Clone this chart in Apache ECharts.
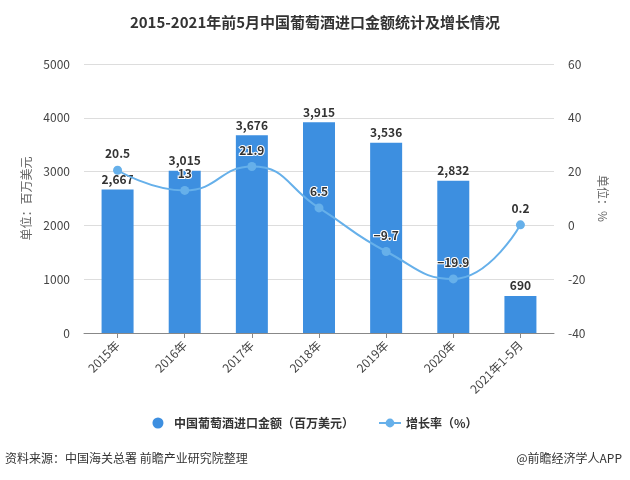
<!DOCTYPE html>
<html><head><meta charset="utf-8">
<script src="https://cdn.jsdelivr.net/npm/echarts@6/dist/echarts.min.js"></script>
<style>html,body{margin:0;padding:0;background:#fff}#c{width:630px;height:480px}</style>
</head><body><div id="c"></div>
<script>
const categories = ['2015年','2016年','2017年','2018年','2019年','2020年','2021年1-5月'];
const importValues = [2667,3015,3676,3915,3536,2832,690];
const growthRates = [20.5,13,21.9,6.5,-9.7,-19.9,0.2];
const leftTicks = {min:0,max:5000,interval:1000};
const rightTicks = {min:-40,max:60,interval:20};

const chart = echarts.init(document.getElementById('c'));
const font = '"Microsoft YaHei","Noto Sans CJK SC",sans-serif';
chart.setOption({
  animation:false,
  textStyle:{fontFamily:font},
  title:{text:'2015-2021年前5月中国葡萄酒进口金额统计及增长情况',left:'center',top:10,
    textStyle:{fontSize:15,fontWeight:'bold',color:'#333',fontFamily:font}},
  grid:{left:84,right:76,top:64,bottom:147},
  legend:{bottom:46,itemGap:24,itemWidth:22,itemHeight:11,textStyle:{fontSize:12,color:'#333',fontWeight:'bold'},
    data:[{name:'中国葡萄酒进口金额（百万美元）',icon:'circle'},{name:'增长率（%）'}]},
  xAxis:{type:'category',data:categories,
    axisLine:{lineStyle:{color:'#888'}},axisTick:{show:true,alignWithLabel:true,lineStyle:{color:'#888'}},
    axisLabel:{rotate:45,color:'#444',fontSize:12,margin:10,interval:0}},
  yAxis:[
    {type:'value',min:leftTicks.min,max:leftTicks.max,interval:leftTicks.interval,
     name:'单位：百万美元',nameLocation:'middle',nameGap:46,nameRotate:90,
     nameTextStyle:{color:'#666',fontSize:12},
     axisLine:{show:false},axisTick:{show:false},
     axisLabel:{color:'#444',fontSize:12,formatter:v=>String(v),margin:14},
     splitLine:{lineStyle:{color:'#ddd'}}},
    {type:'value',min:rightTicks.min,max:rightTicks.max,interval:rightTicks.interval,
     name:'单位：%',nameLocation:'middle',nameGap:40,nameRotate:-90,
     nameTextStyle:{color:'#666',fontSize:12},
     axisLine:{show:false},axisTick:{show:false},
     axisLabel:{color:'#444',fontSize:12,margin:14},
     splitLine:{show:false}}
  ],
  series:[
    {name:'中国葡萄酒进口金额（百万美元）',type:'bar',data:importValues,barWidth:32,
     itemStyle:{color:'#3d8fe0'},
     label:{show:true,position:'top',formatter:p=>p.value.toLocaleString('en-US'),
       color:'#333',fontWeight:'bold',fontSize:12,textBorderColor:'#fff',textBorderWidth:2,distance:4}},
    {name:'增长率（%）',type:'line',yAxisIndex:1,data:growthRates,smooth:true,
     symbol:'circle',symbolSize:9,
     lineStyle:{color:'#66b0ea',width:2},itemStyle:{color:'#66b0ea'},
     label:{show:true,position:'top',color:'#333',fontWeight:'bold',fontSize:12,
       formatter:p=>String(p.value).replace('-','\u2212'),
       textBorderColor:'#fff',textBorderWidth:2,distance:6}}
  ],
  graphic:[
    {type:'text',left:5,top:452,style:{text:'资料来源：中国海关总署 前瞻产业研究院整理',fill:'#333',fontSize:12,fontFamily:font}},
    {type:'text',right:8,top:452,style:{text:'@前瞻经济学人APP',fill:'#333',fontSize:12,fontFamily:font}}
  ]
});
</script></body></html>
